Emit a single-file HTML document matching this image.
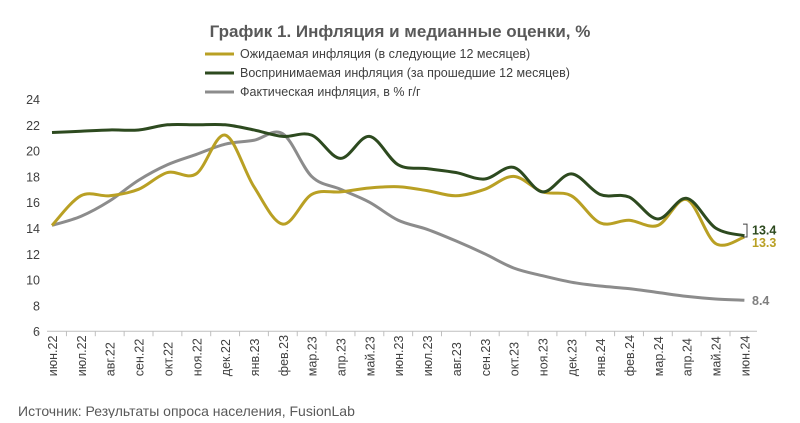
<!DOCTYPE html>
<html><head><meta charset="utf-8"><style>
body{margin:0;background:#fff;width:800px;height:418px;overflow:hidden;font-family:"Liberation Sans",sans-serif}
</style></head><body>
<svg id="s" width="800" height="418" xmlns="http://www.w3.org/2000/svg" font-family="Liberation Sans, sans-serif"></svg>
<script>
const s=document.getElementById('s');let h='';
h+='<text x="400" y="37" text-anchor="middle" font-size="17" font-weight="bold" fill="#595959">График 1. Инфляция и медианные оценки, %</text>';
const leg=[['#b9a024','Ожидаемая инфляция (в следующие 12 месяцев)',54],['#2d4a1f','Воспринимаемая инфляция (за прошедшие 12 месяцев)',73],['#8c8c8c','Фактическая инфляция, в % г/г',92]];
leg.forEach(l=>{h+=`<line x1="205" x2="234" y1="${l[2]}" y2="${l[2]}" stroke="${l[0]}" stroke-width="3"/><text x="240" y="${l[2]+4}" font-size="12.5" fill="#404040">${l[1]}</text>`});
const Y=v=>99+(24-v)*12.9, X=i=>52+28.85*i;
for(let v=6;v<=24;v+=2)h+=`<text x="40" y="${Y(v)+5}" text-anchor="end" font-size="12.5" fill="#404040">${v}</text>`;
h+=`<line x1="47" x2="757" y1="${Y(6)}" y2="${Y(6)}" stroke="#bfbfbf"/>`;
const m=['июн.22','июл.22','авг.22','сен.22','окт.22','ноя.22','дек.22','янв.23','фев.23','мар.23','апр.23','май.23','июн.23','июл.23','авг.23','сен.23','окт.23','ноя.23','дек.23','янв.24','фев.24','мар.24','апр.24','май.24','июн.24'];
m.forEach((t,i)=>{h+=`<line x1="${X(i)-14.4}" x2="${X(i)-14.4}" y1="${Y(6)}" y2="${Y(6)+5}" stroke="#bfbfbf"/><text transform="translate(${X(i)+5},${Y(6)+45}) rotate(-90)" font-size="12.5" fill="#404040">${t}</text>`});
function path(d,c){let p=d.map((v,i)=>[X(i),Y(v)]);let s='M'+p[0];for(let i=0;i<p.length-1;i++){const a=p[i-1]||p[i],b=p[i],c2=p[i+1],e=p[i+2]||c2;s+=`C${b[0]+(c2[0]-a[0])/6},${b[1]+(c2[1]-a[1])/6} ${c2[0]-(e[0]-b[0])/6},${c2[1]-(e[1]-b[1])/6} ${c2[0]},${c2[1]}`}return `<path d="${s}" fill="none" stroke="${c}" stroke-width="3"/>`}
const g=[14.2,14.9,16.1,17.7,18.9,19.7,20.5,20.8,21.3,18,17,16,14.6,13.9,13,12,10.9,10.3,9.8,9.5,9.3,9.0,8.7,8.5,8.4];
const e=[14.2,16.5,16.5,17.0,18.3,18.2,21.2,17.2,14.3,16.6,16.8,17.1,17.2,16.9,16.5,17.0,18.0,16.8,16.5,14.4,14.6,14.2,16.2,12.8,13.3];
const p=[21.4,21.5,21.6,21.6,22.0,22.0,22.0,21.6,21.1,21.2,19.4,21.1,18.9,18.6,18.3,17.8,18.7,16.8,18.2,16.6,16.4,14.7,16.3,14.0,13.4];
h+=path(g,'#8c8c8c')+path(e,'#b9a024')+path(p,'#2d4a1f');
h+=`<path d="M743,${Y(14.3)}h4v${Y(13.3)-Y(14.3)}h-4" fill="none" stroke="#404040"/>`;
h+=`<text x="752" y="${Y(13.4)-1}" font-size="12.5" font-weight="bold" fill="#2d4a1f">13.4</text><text x="752" y="${Y(13.3)+10}" font-size="12.5" font-weight="bold" fill="#b9a024">13.3</text><text x="752" y="${Y(8.4)+5}" font-size="12.5" font-weight="bold" fill="#7f7f7f">8.4</text>`;
h+='<text x="18" y="416" font-size="14" fill="#595959">Источник: Результаты опроса населения, FusionLab</text>';
s.innerHTML=h;
</script>
</body></html>
